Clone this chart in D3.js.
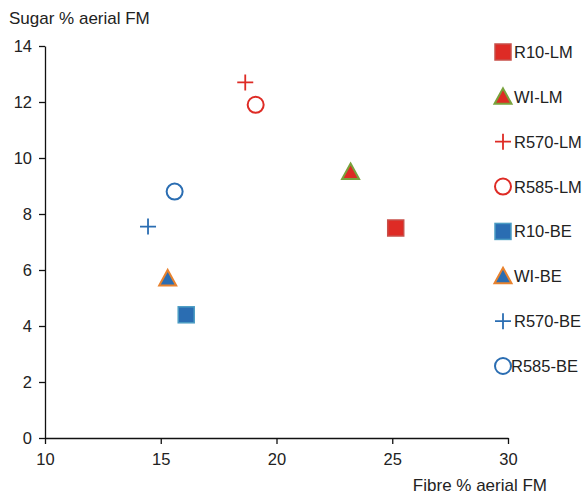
<!DOCTYPE html>
<html>
<head>
<meta charset="utf-8">
<script src="https://cdn.jsdelivr.net/npm/d3@7"></script>
<style>
  body { margin: 0; background: #fff; }
  text { font-family: "Liberation Sans", Arial, sans-serif; }
</style>
</head>
<body>
<div id="root"></div>
<script>
// Dati: serie, valori fibra (x) e zucchero (y)
const series = ["R10-LM", "WI-LM", "R570-LM", "R585-LM", "R10-BE", "WI-BE", "R570-BE", "R585-BE"];
const fibre = [25.15, 23.2, 18.65, 19.1, 16.1, 15.3, 14.45, 15.6];
const sugar = [7.5, 9.5, 12.7, 11.9, 4.4, 5.7, 7.55, 8.8];
const shapes = ["square", "triangle", "plus", "circle", "square", "triangle", "plus", "circle"];
const fills = ["#de2b25", "#de2b25", "none", "none", "#2a6db2", "#2a6db2", "none", "none"];
const strokes = ["#c8504a", "#79a23c", "#de2b25", "#de2b25", "#4b9cc3", "#e8822e", "#2a6db2", "#2a6db2"];
const xTicks = [10, 15, 20, 25, 30];
const yTicks = [0, 2, 4, 6, 8, 10, 12, 14];

const width = 585, height = 494;
const margin = { top: 46, left: 45, right: 77, bottom: 56 };

const svg = d3.select("#root").append("svg")
    .attr("width", width)
    .attr("height", height);

const xScale = d3.scaleLinear().domain([10, 30]).range([margin.left, width - margin.right]);
const yScale = d3.scaleLinear().domain([0, 14]).range([height - margin.bottom, margin.top]);

// Assi
const xAxis = svg.append("g")
    .attr("transform", `translate(0,${yScale(0)})`)
    .call(d3.axisBottom(xScale).tickValues(xTicks).tickSize(6).tickSizeOuter(0).tickPadding(9));

const yAxis = svg.append("g")
    .attr("transform", `translate(${xScale(10)},0)`)
    .call(d3.axisLeft(yScale).tickValues(yTicks).tickSize(6).tickSizeOuter(0).tickPadding(7));

[xAxis, yAxis].forEach(a => {
    a.selectAll("text").attr("font-size", 16.5).attr("fill", "#222")
        .attr("font-family", "Liberation Sans, Arial, sans-serif");
    a.selectAll("line, path").attr("stroke", "#111").attr("stroke-width", 1.3);
});

svg.append("text").attr("x", 9).attr("y", 24).attr("font-size", 17).attr("fill", "#222")
    .text("Sugar % aerial FM");
svg.append("text").attr("x", 547).attr("y", 491).attr("text-anchor", "end")
    .attr("font-size", 17).attr("fill", "#222")
    .text("Fibre % aerial FM");

// Marcatori
function drawMarker(g, shape, fill, stroke) {
    if (shape === "square") {
        g.append("rect").attr("x", -8).attr("y", -8).attr("width", 16).attr("height", 16)
            .attr("fill", fill).attr("stroke", stroke).attr("stroke-width", 1.5);
    } else if (shape === "triangle") {
        g.append("path").attr("d", "M0,-8.5L8.5,7L-8.5,7Z")
            .attr("fill", fill).attr("stroke", stroke).attr("stroke-width", 2);
    } else if (shape === "plus") {
        g.append("path").attr("d", "M-8,0H8M0,-8V8")
            .attr("fill", "none").attr("stroke", stroke).attr("stroke-width", 1.8);
    } else {
        g.append("circle").attr("r", 8)
            .attr("fill", "none").attr("stroke", stroke).attr("stroke-width", 2);
    }
}

series.forEach((s, i) => {
    const g = svg.append("g")
        .attr("transform", `translate(${xScale(fibre[i])},${yScale(sugar[i])})`);
    drawMarker(g, shapes[i], fills[i], strokes[i]);
});

// Legenda
const legendY = d3.scalePoint().domain(series).range([52, 366]);
series.forEach((s, i) => {
    const g = svg.append("g").attr("transform", `translate(503,${legendY(s)})`);
    drawMarker(g, shapes[i], fills[i], strokes[i]);
    g.append("text").attr("x", i === 7 ? 8 : 11).attr("y", 6)
        .attr("font-size", 16.5).attr("fill", "#222").text(s);
});
</script>
</body>
</html>
